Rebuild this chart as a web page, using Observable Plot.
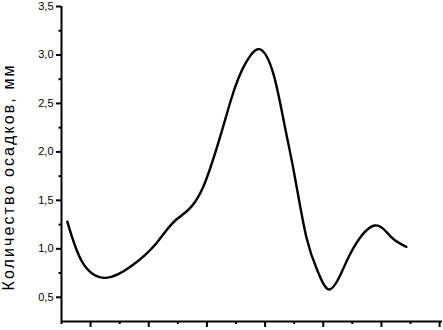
<!DOCTYPE html>
<html>
<head>
<meta charset="utf-8">
<script src="https://cdn.jsdelivr.net/npm/d3@7"></script>
<script src="https://cdn.jsdelivr.net/npm/@observablehq/plot@0.6"></script>
<style>
  html, body { margin: 0; padding: 0; background: #fff; }
</style>
</head>
<body>
<div id="chart"></div>
<script>
// Curve samples (x in axis units, y in mm)
const xs = [0.60, 0.86, 1.26, 1.72, 2.12, 2.47, 2.93, 3.41, 3.67, 3.90, 4.14, 4.33, 4.50, 4.71, 4.91, 5.10, 5.31, 5.53, 5.88, 6.17, 6.43];
const ys = [1.28, 0.86, 0.70, 0.83, 1.05, 1.30, 1.63, 2.53, 2.92, 3.06, 2.81, 2.29, 1.78, 1.12, 0.76, 0.58, 0.75, 1.02, 1.24, 1.12, 1.02];

const yMajor = [0.5, 1.0, 1.5, 2.0, 2.5, 3.0, 3.5];
const yMinor = [0.75, 1.25, 1.75, 2.25, 2.75, 3.25];
const xMajor = [1, 2, 3, 4, 5, 6, 7];
const xMinor = [0.5, 1.5, 2.5, 3.5, 4.5, 5.5, 6.5];
const yLabel = "Количество осадков, мм";

const data = xs.map((x, i) => ({x, y: ys[i]}));
const fmt = d => d.toFixed(1).replace(".", ",");

const chart = Plot.plot({
  width: 443,
  height: 330,
  marginLeft: 61,
  marginRight: 1,
  marginTop: 6,
  marginBottom: 9,
  style: {fontFamily: "Arial, 'Liberation Sans', sans-serif", fontSize: "11px", color: "#000", background: "#fff"},
  x: {domain: [0.5, 7.05]},
  y: {domain: [0.25, 3.5]},
  marks: [
    Plot.axisY(yMajor, {tickSize: 5, tickFormat: fmt, tickPadding: 3, strokeWidth: 2, label: null, fontSize: 11}),
    Plot.axisY(yMinor, {tickSize: 2.5, tickFormat: () => "", strokeWidth: 2, label: null}),
    Plot.axisX(xMajor, {tickSize: 6, tickFormat: () => "", strokeWidth: 2, label: null}),
    Plot.axisX(xMinor, {tickSize: 3, tickFormat: () => "", strokeWidth: 2, label: null}),
    Plot.ruleX([0.5], {strokeWidth: 2}),
    Plot.ruleY([0.25], {strokeWidth: 2}),
    Plot.line(data, {x: "x", y: "y", curve: "natural", stroke: "#000", strokeWidth: 2.4}),
    Plot.text([yLabel], {frameAnchor: "left", textAnchor: "middle", dx: -53, dy: 14, rotate: -90, fontSize: 16, fill: "#000", className: "ylab"})
  ]
});
const t = chart.querySelector(".ylab text");
if (t) { t.setAttribute("textLength", 225); t.setAttribute("lengthAdjust", "spacing"); }
document.getElementById("chart").appendChild(chart);
</script>
</body>
</html>
